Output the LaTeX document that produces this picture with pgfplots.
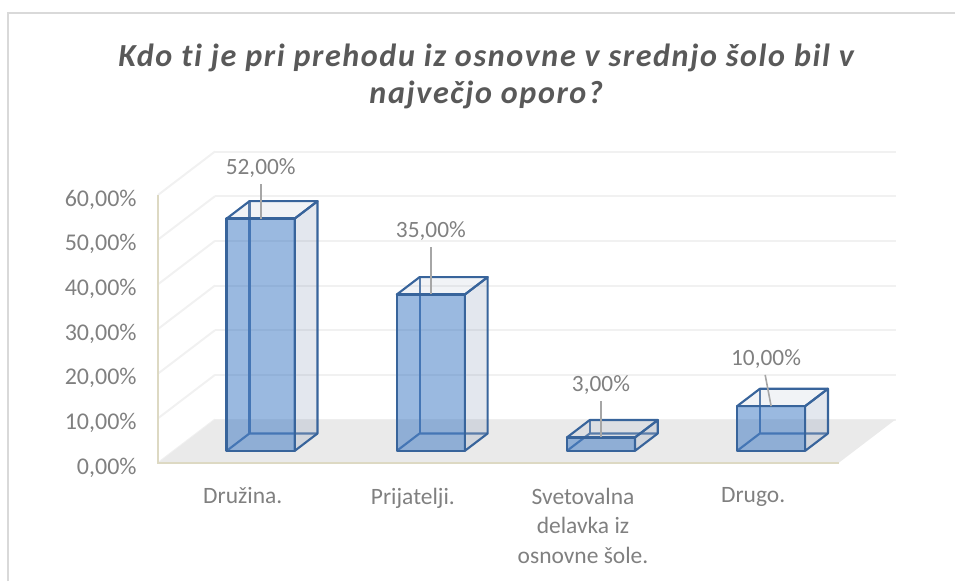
\documentclass[border=0pt]{standalone}
\usepackage{fontspec}
\setmainfont{Carlito}[Ligatures=NoCommon]
\usepackage{pgfplots}
\pgfplotsset{compat=1.18}

\definecolor{edge}{RGB}{56,100,155}
\definecolor{frontc}{RGB}{53,115,193}
\definecolor{sidec}{RGB}{115,135,170}
\definecolor{floorc}{RGB}{234,234,234}
\definecolor{gridc}{RGB}{241,241,241}
\definecolor{wallc}{RGB}{221,217,195}
\definecolor{txt}{RGB}{128,128,128}
\definecolor{leader}{RGB}{166,166,166}
\definecolor{cardc}{RGB}{217,217,217}

% one 3D column: #1 category position, #2 value
\newcommand{\drawbar}[2]{%
  \pgfmathsetmacro{\xa}{#1-0.2}\pgfmathsetmacro{\xb}{#1+0.2}%
  \addplot3[draw=edge!85!white,line width=1.6pt,line join=round] coordinates {(\xa,0.68,0) (\xa,0.68,#2) (\xb,0.68,#2)};
  \addplot3[draw=edge!85!white,line width=1.6pt,line join=round] coordinates {(\xa,0.28,0) (\xa,0.68,0) (\xb,0.68,0)};
  \addplot3[fill=sidec,fill opacity=0.2,draw=edge,line width=1.6pt,line join=round] coordinates {(\xb,0.28,0) (\xb,0.68,0) (\xb,0.68,#2) (\xb,0.28,#2)} -- cycle;
  \addplot3[fill=sidec,fill opacity=0.1,draw=edge,line width=1.6pt,line join=round] coordinates {(\xa,0.28,#2) (\xa,0.68,#2) (\xb,0.68,#2) (\xb,0.28,#2)} -- cycle;
  \addplot3[fill=frontc,fill opacity=0.5,draw=edge,line width=1.8pt,line join=round] coordinates {(\xa,0.28,0) (\xb,0.28,0) (\xb,0.28,#2) (\xa,0.28,#2)} -- cycle;
}

\begin{document}
\begin{tikzpicture}[x=0.75pt,y=0.75pt]
% page frame in reference pixels, origin at data point (0,0,0)
\path[use as bounding box] (-244.75,-118) rectangle (710.25,463);
\draw[cardc,line width=1.5pt] (-237,-118) -- (-237,449.5) -- (710.25,449.5);
\node[font=\fontsize{24.1pt}{27.75pt}\selectfont\bfseries\itshape,text=black!65,align=center,anchor=center]
  at (241.5,386.5) {\addfontfeature{LetterSpace=5}Kdo ti je pri prehodu iz osnovne v srednjo šolo bil v\\\addfontfeature{LetterSpace=5}največjo oporo?};
\begin{axis}[
    at={(0pt,0pt)},anchor=origin,
    x={(127.6pt,0pt)},y={(42.75pt,32.6pt)},z={(0pt,3.35pt)},
    xmin=-0.51,xmax=3.49,ymin=0,ymax=1,zmin=0,zmax=60,
    xtick={0,1,2,3},ytick=\empty,ztick={0,10,20,30,40,50,60},
    xticklabels={Družina.,Prijatelji.,{Svetovalna\\delavka iz\\osnovne šole.},Drugo.},
    zticklabels={{0,00\%},{10,00\%},{20,00\%},{30,00\%},{40,00\%},{50,00\%},{60,00\%}},
    x tick label style={font=\fontsize{17.6pt}{22.3pt}\selectfont,text=txt,align=center,anchor=north,yshift=-15pt,xshift=-1.5pt},
    z tick label style={font=\fontsize{18pt}{22pt}\selectfont,text=txt,anchor=east,xshift=-12.5pt,yshift=-3.5pt},
    zmajorgrids=true,grid style={gridc,line width=1.5pt},
    major tick length=0pt,
    axis line style={draw=none},
    clip=false,
]
\addplot3[fill=floorc,draw=none] coordinates {(-0.51,0,0) (3.49,0,0) (3.49,1,0) (-0.51,1,0)} -- cycle;
\addplot3[wallc,line width=1.8pt] coordinates {(-0.51,0,60) (-0.51,0,0) (3.49,0,0)};

\drawbar{0}{52}
\drawbar{1}{35}
\drawbar{2}{3}
\drawbar{3}{10}

% leader lines
\addplot3[leader,line width=1.2pt] coordinates {(0,0.28,52) (0,0.28,59.7)};
\addplot3[leader,line width=1.2pt] coordinates {(1,0.28,35) (1,0.28,45.6)};
\addplot3[leader,line width=1.2pt] coordinates {(2,0.28,3) (2,0.28,11.25)};
\addplot3[leader,line width=1.2pt] coordinates {(3,0.28,10) (2.965,0.28,17)};

\node[font=\fontsize{17.5pt}{20pt}\selectfont,text=txt] at (axis cs:0,0.28,63.3) {52,00\%};
\node[font=\fontsize{17.5pt}{20pt}\selectfont,text=txt] at (axis cs:1,0.28,49.3) {35,00\%};
\node[font=\fontsize{17.5pt}{20pt}\selectfont,text=txt] at (axis cs:2,0.28,14.8) {3,00\%};
\node[font=\fontsize{17.5pt}{20pt}\selectfont,text=txt] at (axis cs:2.97,0.28,20.6) {10,00\%};
\end{axis}
\end{tikzpicture}
\end{document}
